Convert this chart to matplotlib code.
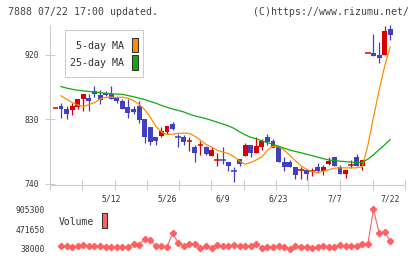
import numpy as np
import matplotlib
matplotlib.use("Agg")
import matplotlib.pyplot as plt
from matplotlib.patches import Rectangle

# daily candles, index 0..60 (4/24 .. 7/22)
opens = [846, 849, 845, 843, 847, 859, 860, 870, 864, 867,
         866, 860, 855, 847, 845, 849, 830, 819, 806, 807,
         813, 823, 806.5, 805, 800, 791, 795, 791, 779, 773,
         774.5, 771, 758.5, 775, 779, 795, 783, 791, 805, 800,
         792, 771, 771, 764, 759, 759, 758, 763, 758, 768,
         778, 764, 754, 766, 778, 765, 922, 923, 920, 920,
         956]
highs = [846, 853, 848, 853, 859, 866, 866, 877, 871, 870,
         876, 862, 859, 859, 848, 856, 830, 820, 806, 820,
         821, 827, 810, 808, 805, 794, 800, 793, 792, 783,
         791, 771, 764, 775, 797, 795, 805, 802, 810, 802,
         792, 778, 773, 764, 764, 759, 762, 769, 767, 777,
         778, 766, 759, 773, 782, 774, 922, 949, 938, 960,
         961]
lows = [846, 832, 830, 836, 845, 841, 841, 861, 851, 863,
        858, 853, 845, 832, 838, 825, 797, 795, 794, 805,
        810, 815, 791, 795, 786, 771, 780, 780, 779, 765,
        768, 758, 743, 765, 779, 778, 783, 787, 794, 790,
        771, 758, 763, 747, 747, 746, 751, 755, 753, 766,
        765, 754, 749, 762, 765, 759, 922, 919, 909, 920,
        941]
closes = [846, 845, 838, 848, 859, 866, 856, 866, 857, 864,
          859, 855, 845, 839, 840, 829, 806, 799, 800, 814,
          821, 817, 806, 798, 800, 783, 795, 782, 788, 773,
          774, 765, 758, 768, 795, 783, 793, 800, 798, 790,
          771, 763, 763, 752, 759, 754, 758, 758, 764, 772,
          765, 754, 759, 766, 765, 774, 922, 919, 915, 953,
          947]

# moving averages and volume, index 1..60
ma5 = [863, 858, 853.5, 850, 848, 850.5, 853.5, 858.5, 860.5, 861,
       860.5, 861, 859.5, 856, 851, 843.5, 833, 820.5, 812.5, 809,
       809.5, 810.5, 811, 810.5, 806.5, 801, 795, 791.5, 787, 784.5,
       782.5, 778, 772, 767.5, 770, 773.5, 778, 787, 792.5, 792,
       787, 780, 772.5, 765.5, 760.5, 757, 756, 758, 760, 762,
       762.5, 762.5, 762.5, 762.5, 764, 794, 833, 870, 904, 931]
ma25 = [875.7, 873.6, 872, 870.6, 869.7, 869, 868, 867.4, 866.4, 865.6,
        865.3, 864.9, 863.2, 861.6, 859.5, 857.7, 854.9, 852.6, 849.4, 846.9,
        844.5, 842.5, 840.4, 837.3, 834.8, 833, 831, 828.6, 826.1, 823.5,
        821, 817.5, 812.7, 808.5, 805, 803, 800.2, 797.5, 795.4, 792.6,
        789.8, 787.4, 785.3, 783.6, 781.5, 779.5, 777.4, 775.3, 773.5, 772.6,
        771.8, 771.1, 770.5, 769.6, 770.5, 774.6, 780.8, 787.7, 794.7, 801.9]
volume = [103500, 96000, 88700, 103500, 118000, 110000, 103500, 103500, 74000, 74000,
          81000, 88700, 88700, 147000, 133000, 256500, 234000, 103500, 103500, 88700,
          381000, 176000, 103500, 147000, 140000, 66400, 103500, 66400, 125000, 110000,
          103500, 125000, 103500, 110000, 103500, 140000, 66400, 88700, 88700, 110000,
          74000, 44500, 103500, 88700, 88700, 66400, 88700, 110000, 88700, 88700,
          125000, 103500, 103500, 110000, 154000, 154000, 905300, 394000, 403000, 213000]

date_idx = [10, 20, 30, 40, 50, 60]
date_labels = ['5/12', '5/26', '6/9', '6/23', '7/7', '7/22']
price_ticks = [740, 830, 920]
vol_ticks = [38000, 471650, 905300]

W, H = 420, 259
mono = 'DejaVu Sans Mono'
red, blue = '#d80000', '#4040c0'
orange, green = '#ff8c00', '#10aa10'
grey = '#cccccc'
txt = '#333333'


def box(x0, y0, x1, y1):
    # pixel box (top-left origin) -> figure fraction rect
    return [x0 / W, 1 - y1 / H, (x1 - x0) / W, (y1 - y0) / H]


fig = plt.figure(figsize=(W / 100, H / 100), dpi=100)

ax = fig.add_axes(box(50, 25, 405, 184.5))
n = len(closes)
for i in range(n):
    c = red if closes[i] >= opens[i] else blue
    ax.vlines(i, lows[i], highs[i], color=c, lw=0.9)
    lo = min(opens[i], closes[i])
    hi = max(opens[i], closes[i])
    if hi - lo < 1.5:
        ax.hlines(closes[i], i - 0.5, i + 0.5, color=c, lw=1.1)
    else:
        ax.bar(i, hi - lo, bottom=lo, width=0.88, color=c, lw=0)

x = np.arange(1, n)
ax.plot(x, ma5, color=orange, lw=0.9)
ax.plot(x, ma25, color=green, lw=0.9)

xlim = (-0.97, 62.65)
ax.set_xlim(xlim)
ax.set_ylim(739.3, 961.5)
for s in ['top', 'right']:
    ax.spines[s].set_visible(False)
for s in ['left', 'bottom']:
    ax.spines[s].set_color(grey)
    ax.spines[s].set_linewidth(0.75)

ax.set_yticks(price_ticks)
ax.set_yticklabels([str(v) for v in price_ticks], family=mono, fontsize=5.8, color=txt)
ax.tick_params(axis='y', direction='inout', length=6.5, width=0.75, color=grey, pad=4.4)
ax.set_xticks(date_idx)
ax.set_xticklabels(date_labels, family=mono, fontsize=5.8, color=txt)
ax.set_xticks(np.linspace(xlim[0], xlim[1], 12), minor=True)
ax.tick_params(axis='x', which='major', length=0, pad=7)
ax.tick_params(axis='x', which='minor', direction='inout', length=6.5, width=0.75, color=grey)

# volume panel
vax = fig.add_axes(box(50, 209.3, 405, 249))
vax.plot(x, volume, color='#ff6060', lw=0.8, marker='D', ms=3.2, clip_on=False)
vax.set_xlim(xlim)
vax.set_ylim(vol_ticks[0], vol_ticks[-1])
vax.set_yticks(vol_ticks)
vax.set_yticklabels([str(v) for v in vol_ticks], family=mono, fontsize=5.8, color=txt)
vax.tick_params(axis='y', length=0, pad=4)
vax.set_xticks([])
for s in vax.spines.values():
    s.set_visible(False)
vax.patch.set_alpha(0)

# header
fig.text(8 / W, 1 - 12.3 / H, '7888 07/22 17:00 updated.', family=mono, fontsize=7.1,
         color='#444444', ha='left', va='center')
fig.text(409 / W, 1 - 12.3 / H, '(C)https://www.rizumu.net/', family=mono, fontsize=7.1,
         color='#444444', ha='right', va='center')

# legend box
fig.add_artist(Rectangle(box(65, 30, 143, 76.7)[:2], (143 - 65) / W, 46.7 / H,
                         transform=fig.transFigure, facecolor='white', edgecolor=grey, lw=0.75))
fig.text(124.5 / W, 1 - 45.7 / H, '5-day MA', family=mono, fontsize=7.2, color=txt,
         ha='right', va='center')
fig.text(124.5 / W, 1 - 63.3 / H, '25-day MA', family=mono, fontsize=7.2, color=txt,
         ha='right', va='center')
for (y0, y1), col in [((37.7, 52.3), orange), ((55, 69.5), green)]:
    r = box(131.5, y0, 137.5, y1)
    fig.add_artist(Rectangle(r[:2], r[2], r[3], transform=fig.transFigure,
                             facecolor=col, edgecolor='#333333', lw=0.75))

fig.text(59 / W, 1 - 222.3 / H, 'Volume', family=mono, fontsize=7.0, color=txt,
         ha='left', va='center')
r = box(101.7, 213.3, 107.3, 228.3)
fig.add_artist(Rectangle(r[:2], r[2], r[3], transform=fig.transFigure,
                         facecolor='#ff6060', edgecolor='#333333', lw=0.75))

fig.savefig('out.png', dpi=100)
